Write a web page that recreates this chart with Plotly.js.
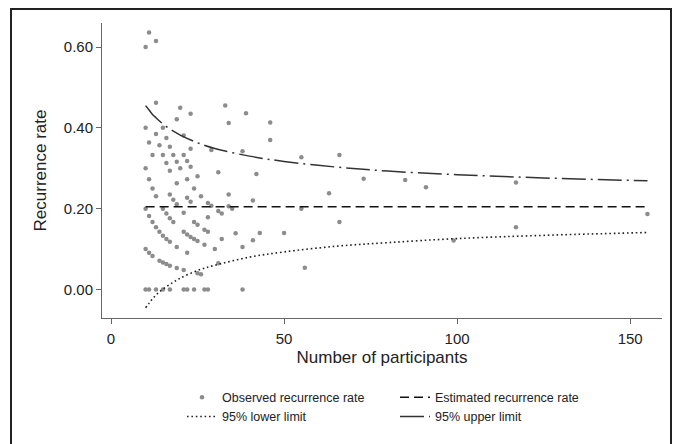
<!DOCTYPE html>
<html>
<head>
<meta charset="utf-8">
<script src="https://cdn.plot.ly/plotly-3.0.1.min.js"></script>
<style>html,body{margin:0;padding:0;background:#fff;}#chart{width:677px;height:444px;}</style>
</head>
<body>
<div id="chart"></div>
<script>
// Observed recurrence rate: number of participants and rate
var obsN = [
 10,10,10,10,10,10,
 11,11,11,11,11,11,
 12,12,12,12,
 13,13,13,13,13,13,
 14,14,14,
 15,15,15,15,15,15,
 16,16,16,16,16,
 17,17,17,17,17,17,17,
 18,18,18,
 19,19,19,19,19,19,
 20,20,
 21,21,21,21,21,21,
 22,22,22,22,22,22,
 23,23,23,23,23,
 24,24,24,24,
 25,25,25,25,
 26,26,
 27,27,27,
 28,28,28,28,
 29,29,
 30,
 31,31,31,
 32,32,
 33,
 34,34,34,
 35,
 36,
 38,38,38,
 39,
 41,41,
 42,
 43,
 46,46,
 50,
 55,55,
 56,
 63,
 66,66,
 73,
 85,
 91,
 99,
 117,117,
 155
];
var obsRate = [
 0.600,0.400,0.300,0.200,0.100,0.000,
 0.636,0.364,0.273,0.182,0.091,0.000,
 0.333,0.250,0.167,0.083,
 0.615,0.462,0.385,0.231,0.154,0.000,
 0.357,0.143,0.071,
 0.400,0.333,0.200,0.133,0.067,0.000,
 0.375,0.313,0.188,0.125,0.063,
 0.353,0.294,0.235,0.176,0.118,0.059,0.000,
 0.333,0.222,0.167,
 0.421,0.316,0.263,0.211,0.105,0.053,
 0.450,0.300,
 0.381,0.333,0.190,0.143,0.048,0.000,
 0.318,0.273,0.227,0.136,0.091,0.000,
 0.435,0.348,0.304,0.217,0.130,
 0.250,0.167,0.125,0.000,
 0.280,0.160,0.120,0.040,
 0.231,0.038,
 0.148,0.111,0.000,
 0.214,0.179,0.143,0.000,
 0.345,0.207,
 0.100,
 0.290,0.194,0.065,
 0.188,0.125,
 0.455,
 0.412,0.235,0.206,
 0.200,
 0.139,
 0.342,0.105,0.000,
 0.436,
 0.220,0.122,
 0.286,
 0.140,
 0.413,0.370,
 0.140,
 0.327,0.200,
 0.054,
 0.238,
 0.333,0.167,
 0.274,
 0.271,
 0.253,
 0.121,
 0.265,0.154,
 0.187
];
// Estimated recurrence rate (horizontal line)
var estN = [10, 155];
var estRate = [0.205, 0.205];
// 95% limits
var limitN = [10, 11, 12, 13, 14, 16, 18, 20, 25, 30, 40, 50, 65, 80, 100, 125, 155];
var upperLimit = [0.455, 0.444, 0.433, 0.425, 0.417, 0.403, 0.392, 0.382, 0.363, 0.349, 0.330, 0.317, 0.303, 0.293, 0.284, 0.276, 0.269];
var lowerLimit = [-0.045, -0.034, -0.023, -0.014, -0.006, 0.007, 0.018, 0.028, 0.047, 0.060, 0.080, 0.093, 0.107, 0.116, 0.126, 0.134, 0.141];

var xTicks = [0, 50, 100, 150];
var yTicks = [0, 0.2, 0.4, 0.6];
var yTickText = ['0.00', '0.20', '0.40', '0.60'];

var traces = [
  {x: obsN, y: obsRate, type: 'scatter', mode: 'markers', name: 'Observed recurrence rate',
   marker: {color: '#8c8c8c', size: 4.5}},
  {x: estN, y: estRate, type: 'scatter', mode: 'lines', name: 'Estimated recurrence rate',
   line: {color: '#111', width: 1.5, dash: '9px,5px'}},
  {x: limitN, y: lowerLimit, type: 'scatter', mode: 'lines', name: '95% lower limit',
   line: {color: '#222', width: 1.6, dash: '1.6px,2.8px', shape: 'spline'}},
  {x: limitN, y: upperLimit, type: 'scatter', mode: 'lines', name: '95% upper limit',
   line: {color: '#333', width: 1.5, dash: '24px,5px,2px,5px', shape: 'spline'}}
];

// plot area: x 102..662, y 23..320
var L = 102, R = 662, T = 23, B = 320, W = 677, H = 444;
function px(x){ return (x - L) / (R - L); }
function py(y){ return (B - y) / (B - T); }

var layout = {
  width: W, height: H,
  margin: {l: L, r: W - R, t: T, b: H - B, pad: 0},
  paper_bgcolor: '#fff', plot_bgcolor: '#fff',
  font: {family: 'Liberation Sans, Arial, sans-serif', color: '#222'},
  showlegend: true,
  legend: {orientation: 'h', x: px(182), xanchor: 'left', y: py(385), yanchor: 'top',
           entrywidth: 168, entrywidthmode: 'pixels', font: {size: 12.5, color: '#222'},
           bgcolor: 'rgba(0,0,0,0)', traceorder: 'normal', itemclick: false},
  xaxis: {range: [-2.6, 159.2], tickvals: xTicks, ticktext: xTicks.map(String),
          showgrid: false, zeroline: false, showline: true, linecolor: '#666', linewidth: 1,
          ticks: 'outside', ticklen: 5, tickcolor: '#666', tickfont: {size: 15, color: '#222'},
          ticklabelstandoff: 2,
          title: {text: 'Number of participants', font: {size: 17, color: '#222'}, standoff: 5},
          automargin: false, fixedrange: true},
  yaxis: {range: [-0.0705, 0.6594], tickvals: yTicks, ticktext: yTickText,
          showgrid: false, zeroline: false, showline: true, linecolor: '#666', linewidth: 1,
          ticks: 'outside', ticklen: 5, tickcolor: '#666', tickfont: {size: 15, color: '#222'},
          title: {text: 'Recurrence rate', font: {size: 17, color: '#222'}, standoff: 12},
          automargin: false, fixedrange: true},
  shapes: [
    {type: 'path', xref: 'paper', yref: 'paper',
     path: 'M ' + px(11) + ' ' + py(450) + ' L ' + px(11) + ' ' + py(9) + ' L ' + px(671) + ' ' + py(9) + ' L ' + px(671) + ' ' + py(450),
     line: {color: '#222', width: 2}}
  ]
};

Plotly.newPlot('chart', traces, layout, {displayModeBar: false, staticPlot: true});
</script>
</body>
</html>
